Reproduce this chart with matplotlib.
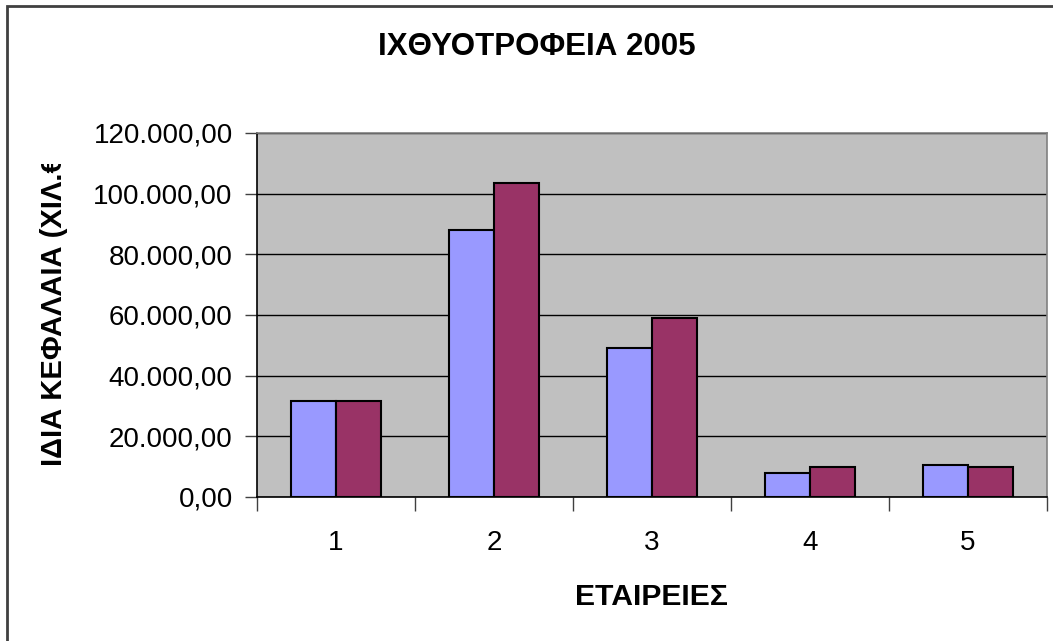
import matplotlib
matplotlib.use("Agg")
import matplotlib.pyplot as plt
from matplotlib.patches import Rectangle
from matplotlib.transforms import Bbox, TransformedBbox
from matplotlib.ticker import FixedLocator, NullFormatter, FuncFormatter
import numpy as np

plt.rcParams['font.family'] = ['Liberation Sans', 'DejaVu Sans']

categories = ["1", "2", "3", "4", "5"]
series_a = [31500, 88000, 49000, 8000, 10500]
series_b = [31500, 103500, 59000, 10000, 10000]
yticks = [0, 20000, 40000, 60000, 80000, 100000, 120000]
title = "ΙΧΘΥΟΤΡΟΦΕΙΑ 2005"
xlabel = "ΕΤΑΙΡΕΙΕΣ"
ylabel = "ΙΔΙΑ ΚΕΦΑΛΑΙΑ (ΧΙΛ.€)"

W, H = 1053, 641
fig = plt.figure(figsize=(W / 100, H / 100), dpi=100)
fig.patch.set_facecolor("white")

# outer chart border (extends beyond the image on right/bottom)
fig.add_artist(Rectangle((7 / W, -0.1), 1.2, (H - 6) / H + 0.1, transform=fig.transFigure,
                         fill=False, edgecolor="#404040", linewidth=2))

left, right, top, bottom = 257, 1047, 133, 497
ax = fig.add_axes([left / W, 1 - bottom / H, (right - left) / W, (bottom - top) / H])
ax.set_facecolor("#C0C0C0")

x = np.arange(len(categories))
bw = 0.285
ax.bar(x - bw / 2, series_a, width=bw, color="#9999FF", edgecolor="black", linewidth=1.5, zorder=3)
ax.bar(x + bw / 2, series_b, width=bw, color="#993366", edgecolor="black", linewidth=1.5, zorder=3)

ax.set_xlim(-0.5, len(categories) - 0.5)
ax.set_ylim(0, 120000)
ax.yaxis.set_major_locator(FixedLocator(yticks))
fmt = lambda v, p: f"{v:,.2f}".replace(",", "X").replace(".", ",").replace("X", ".")
ax.yaxis.set_major_formatter(FuncFormatter(fmt))
ax.grid(axis="y", color="black", linewidth=1, zorder=1)
ax.set_axisbelow(True)

# category ticks at boundaries, labels at centers
ax.xaxis.set_major_locator(FixedLocator(np.arange(-0.5, len(categories), 1.0)))
ax.xaxis.set_major_formatter(NullFormatter())
ax.xaxis.set_minor_locator(FixedLocator(x))
ax.set_xticklabels(categories, minor=True)
ax.tick_params(axis="x", which="minor", length=0, labelsize=20, pad=24)
ax.tick_params(axis="x", which="major", length=10, width=1, color="#404040", direction="out")
ax.tick_params(axis="y", length=9, width=1, color="#404040", labelsize=20, pad=8.5)

for s in ["top", "right"]:
    ax.spines[s].set_color("#808080")
    ax.spines[s].set_linewidth(1.2)
for s in ["left", "bottom"]:
    ax.spines[s].set_color("black")
    ax.spines[s].set_linewidth(1.2)

fig.text(537 / W, 1 - 47 / H, title, ha="center", va="center", fontsize=22.5, fontweight="bold")
fig.text(651 / W, 1 - 597 / H, xlabel, ha="center", va="center", fontsize=21.7, fontweight="bold")

yl = fig.text(54 / W, 1 - 306 / H, ylabel, ha="center", va="center", rotation=90,
              fontsize=21, fontweight="bold")
yl.set_clip_box(TransformedBbox(Bbox([[0, 0], [1, 1 - 164 / H]]), fig.transFigure))
yl.set_clip_on(True)

fig.savefig("out.png", dpi=100)
